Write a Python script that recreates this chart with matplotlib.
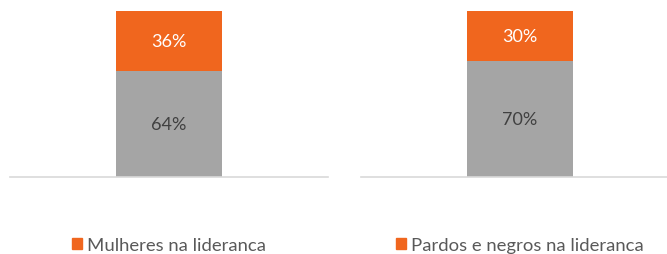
import matplotlib.pyplot as plt
from matplotlib.patches import Patch

plt.rcParams['font.family'] = ['Lato', 'DejaVu Sans']

# dados
series_labels = ["Mulheres na lideranca", "Pardos e negros na lideranca"]
outros = [64, 70]
destaque = [36, 30]

GRAY = "#A5A5A5"
ORANGE = "#F0661E"
TEXT = "#595959"

fig = plt.figure(figsize=(6.67, 2.55), dpi=100)
axes = [
    fig.add_axes([10 / 667, 1 - 178 / 255, 318 / 667, 166 / 255]),
    fig.add_axes([361 / 667, 1 - 178 / 255, 318 / 667, 166 / 255]),
]

for ax, label, low, high in zip(axes, series_labels, outros, destaque):
    ax.bar(0, low, width=0.336, color=GRAY)
    ax.bar(0, high, bottom=low, width=0.336, color=ORANGE)
    ax.text(0, low / 2, f"{low}%", ha="center", va="center", fontsize=13, color="#404040")
    ax.text(0, low + high / 2, f"{high}%", ha="center", va="center", fontsize=13, color="white")

    ax.set_xlim(-0.5, 0.5)
    ax.set_ylim(0, 100)
    ax.set_xticks([])
    ax.set_yticks([])
    for side in ["top", "left", "right"]:
        ax.spines[side].set_visible(False)
    ax.spines["bottom"].set_color("#D9D9D9")
    ax.spines["bottom"].set_linewidth(1.2)

    ax.legend(handles=[Patch(color=ORANGE, label=label)], loc="center",
              bbox_to_anchor=(0.5, -0.41), frameon=False, fontsize=13.3,
              handlelength=0.55, handleheight=0.55, handletextpad=0.3,
              labelcolor=TEXT)

fig.savefig("out.png", dpi=100)
